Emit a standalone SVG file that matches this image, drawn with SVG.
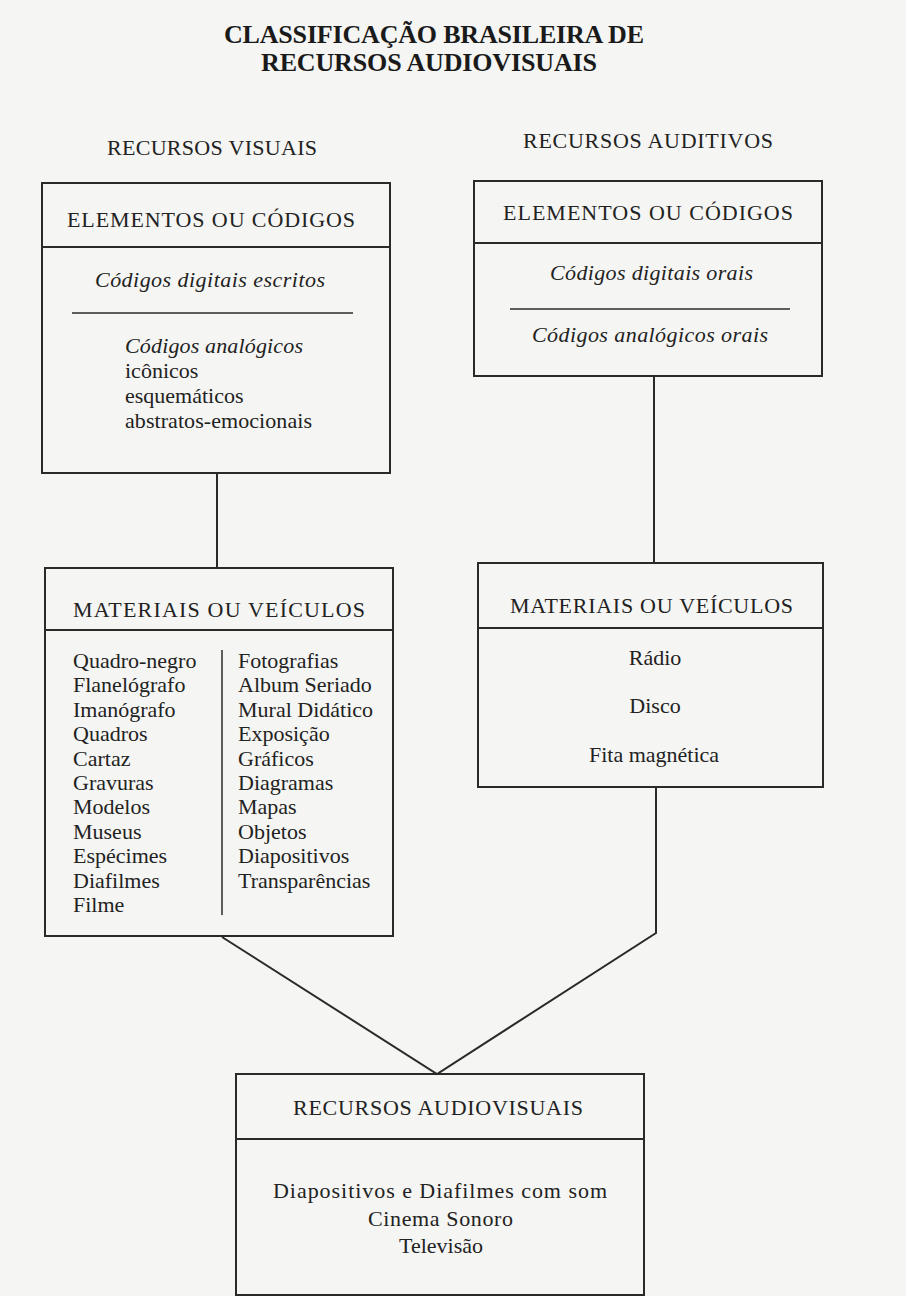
<svg xmlns="http://www.w3.org/2000/svg" width="906" height="1296" viewBox="0 0 906 1296">
<style>
text{font-family:"Liberation Serif","DejaVu Serif",serif;fill:#222;font-size:22px}
.title{font-weight:bold;font-size:26px;fill:#1a1a1a}
.hd{font-size:22px}
.it{font-style:italic}
.c{text-anchor:middle}
.box{fill:none;stroke:#2a2a2a;stroke-width:2}
.ln{stroke:#2a2a2a;stroke-width:2;fill:none}
.thin{stroke:#2a2a2a;stroke-width:1.5;fill:none}
</style>
<rect x="0" y="0" width="906" height="1296" fill="#f5f5f3"/>

<g id="title">
<text class="title" x="224" y="43" textLength="420">CLASSIFICAÇÃO BRASILEIRA DE</text>
<text class="title" x="261" y="71" textLength="336">RECURSOS AUDIOVISUAIS</text>
</g>

<g id="label-visuais"><text class="hd" x="107" y="155" textLength="210">RECURSOS VISUAIS</text></g>
<g id="label-auditivos"><text class="hd" x="523" y="148" textLength="250">RECURSOS AUDITIVOS</text></g>

<g id="connectors">
<line class="ln" x1="217" y1="473" x2="217" y2="568"/>
<line class="ln" x1="654" y1="376" x2="654" y2="563"/>
<polyline class="ln" points="222,937 437,1074 656,933 656,787"/>
</g>

<g id="visuais-elementos">
<rect class="box" x="42" y="183" width="348" height="290"/>
<line class="ln" x1="42" y1="247" x2="390" y2="247"/>
<text class="hd" x="67" y="227" textLength="288">ELEMENTOS OU CÓDIGOS</text>
<text class="it" x="95" y="287" textLength="230">Códigos digitais escritos</text>
<line class="thin" x1="72" y1="313" x2="353" y2="313"/>
<text class="it" x="125" y="353" textLength="178">Códigos analógicos</text>
<text x="125" y="378">icônicos</text>
<text x="125" y="403">esquemáticos</text>
<text x="125" y="428" textLength="187">abstratos-emocionais</text>
</g>

<g id="auditivos-elementos">
<rect class="box" x="474" y="181" width="348" height="195"/>
<line class="ln" x1="474" y1="243" x2="822" y2="243"/>
<text class="hd" x="503" y="220" textLength="290">ELEMENTOS OU CÓDIGOS</text>
<text class="it" x="550" y="280" textLength="203">Códigos digitais orais</text>
<line class="thin" x1="510" y1="309" x2="790" y2="309"/>
<text class="it" x="532" y="342" textLength="236">Códigos analógicos orais</text>
</g>

<g id="visuais-materiais">
<rect class="box" x="45" y="568" width="348" height="368"/>
<line class="ln" x1="45" y1="630" x2="393" y2="630"/>
<text class="hd" x="73" y="617" textLength="292">MATERIAIS OU VEÍCULOS</text>
<line class="thin" x1="222" y1="650" x2="222" y2="915"/>
<text x="73" y="668">Quadro-negro</text>
<text x="73" y="692">Flanelógrafo</text>
<text x="73" y="717">Imanógrafo</text>
<text x="73" y="741">Quadros</text>
<text x="73" y="766">Cartaz</text>
<text x="73" y="790">Gravuras</text>
<text x="73" y="814">Modelos</text>
<text x="73" y="839">Museus</text>
<text x="73" y="863">Espécimes</text>
<text x="73" y="888">Diafilmes</text>
<text x="73" y="912">Filme</text>
<text x="238" y="668">Fotografias</text>
<text x="238" y="692">Album Seriado</text>
<text x="238" y="717">Mural Didático</text>
<text x="238" y="741">Exposição</text>
<text x="238" y="766">Gráficos</text>
<text x="238" y="790">Diagramas</text>
<text x="238" y="814">Mapas</text>
<text x="238" y="839">Objetos</text>
<text x="238" y="863">Diapositivos</text>
<text x="238" y="888">Transparências</text>
</g>

<g id="auditivos-materiais">
<rect class="box" x="478" y="563" width="345" height="224"/>
<line class="ln" x1="478" y1="628" x2="823" y2="628"/>
<text class="hd" x="510" y="613" textLength="283">MATERIAIS OU VEÍCULOS</text>
<text class="c" x="655" y="665">Rádio</text>
<text class="c" x="655" y="713">Disco</text>
<text class="c" x="654" y="762">Fita magnética</text>
</g>

<g id="audiovisuais">
<rect class="box" x="236" y="1074" width="408" height="221"/>
<line class="ln" x1="236" y1="1139" x2="644" y2="1139"/>
<text class="hd" x="293" y="1115" textLength="290">RECURSOS AUDIOVISUAIS</text>
<text x="273" y="1198" textLength="334">Diapositivos e Diafilmes com som</text>
<text x="368" y="1226" textLength="145">Cinema Sonoro</text>
<text x="399" y="1253" textLength="84">Televisão</text>
</g>
</svg>
